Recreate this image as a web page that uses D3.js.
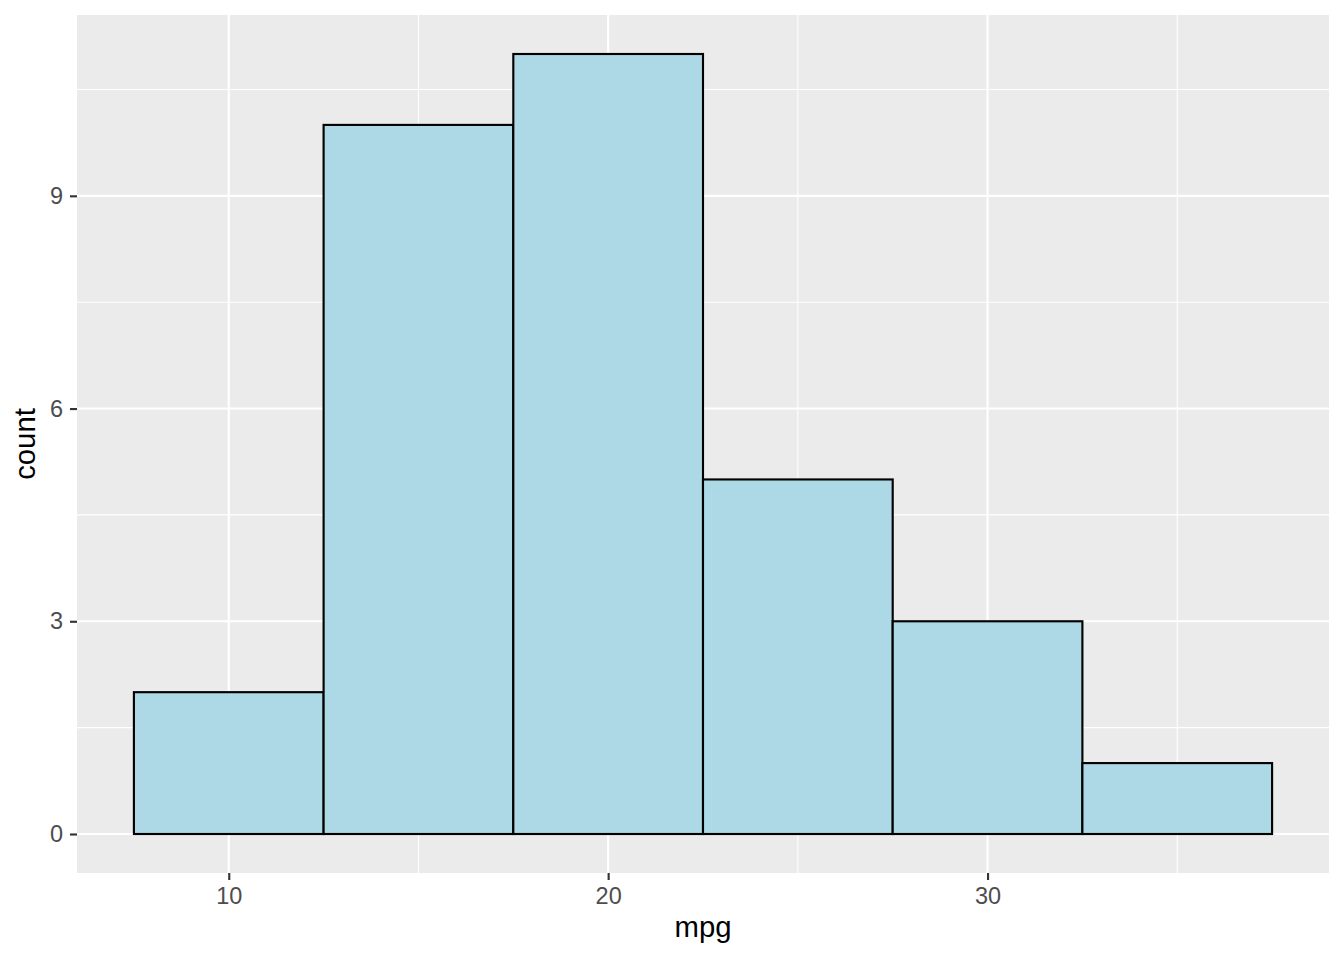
<!DOCTYPE html>
<html><head><meta charset="utf-8">
<script src="https://cdn.jsdelivr.net/npm/d3@7"></script>
<style>body{margin:0;background:#fff;} svg{display:block;font-family:"Liberation Sans",Arial,sans-serif;}</style>
</head><body>
<svg id="c" width="1344" height="960"></svg>
<script>
const binStarts = [7.5, 12.5, 17.5, 22.5, 27.5, 32.5];
const binWidth = 5;
const counts = [2, 10, 11, 5, 3, 1];
const xTicks = [10, 20, 30];
const xMinor = [15, 25, 35];
const yTicks = [0, 3, 6, 9];
const yMinor = [1.5, 4.5, 7.5, 10.5];

const svg = d3.select("#c");
const L = 77, R = 1329, T = 15, B = 873;
const x = d3.scaleLinear().domain([6, 39]).range([L, R]);
const y = d3.scaleLinear().domain([-0.55, 11.55]).range([B, T]);

svg.append("rect").attr("x", L).attr("y", T).attr("width", R - L).attr("height", B - T).attr("fill", "#EBEBEB");
const g = svg.append("g");
g.selectAll(".xm").data(xMinor).join("line").attr("x1", d => x(d)).attr("x2", d => x(d)).attr("y1", T).attr("y2", B).attr("stroke", "#fff").attr("stroke-width", 1.07);
g.selectAll(".ym").data(yMinor).join("line").attr("y1", d => y(d)).attr("y2", d => y(d)).attr("x1", L).attr("x2", R).attr("stroke", "#fff").attr("stroke-width", 1.07);
g.selectAll(".xM").data(xTicks).join("line").attr("x1", d => x(d)).attr("x2", d => x(d)).attr("y1", T).attr("y2", B).attr("stroke", "#fff").attr("stroke-width", 2.13);
g.selectAll(".yM").data(yTicks).join("line").attr("y1", d => y(d)).attr("y2", d => y(d)).attr("x1", L).attr("x2", R).attr("stroke", "#fff").attr("stroke-width", 2.13);

svg.append("g").selectAll("rect").data(binStarts).join("rect")
  .attr("x", d => x(d)).attr("width", x(binStarts[0] + binWidth) - x(binStarts[0]))
  .attr("y", (d, i) => y(counts[i])).attr("height", (d, i) => y(0) - y(counts[i]))
  .attr("fill", "#ADD8E6").attr("stroke", "#000").attr("stroke-width", 2.13);

const xAxis = d3.axisBottom(x).tickValues(xTicks).tickSize(7).tickPadding(6);
const xa = svg.append("g").attr("transform", `translate(0,${B})`).call(xAxis);
const yAxis = d3.axisLeft(y).tickValues(yTicks).tickSize(7).tickPadding(7);
const ya = svg.append("g").attr("transform", `translate(${L},0)`).call(yAxis);
[xa, ya].forEach(a => {
  a.select(".domain").remove();
  a.selectAll(".tick line").attr("stroke", "#333").attr("stroke-width", 2.13);
  a.selectAll(".tick text").attr("fill", "#4D4D4D").attr("font-size", 23.5).attr("font-family", "Liberation Sans, Arial, sans-serif");
});
xa.selectAll(".tick text").attr("dy", null).attr("y", 31);

svg.append("text").attr("x", (L + R) / 2).attr("y", 937).attr("text-anchor", "middle").attr("font-size", 29.3).attr("fill", "#000").text("mpg");
svg.append("text").attr("transform", `translate(35,${(T + B) / 2}) rotate(-90)`).attr("text-anchor", "middle").attr("font-size", 29.3).attr("fill", "#000").text("count");
</script>
</body></html>
